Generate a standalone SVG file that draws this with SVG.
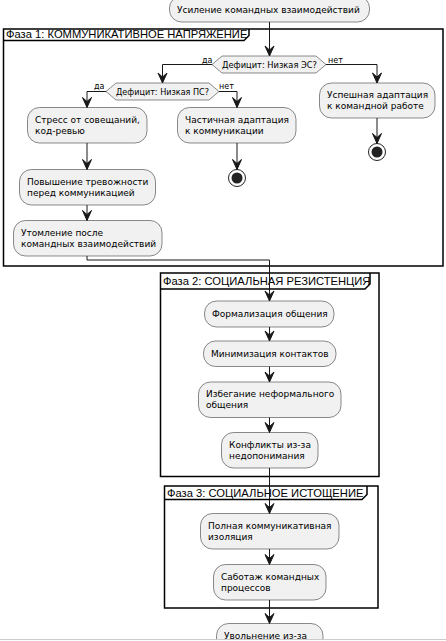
<svg xmlns="http://www.w3.org/2000/svg" width="446" height="641" viewBox="0 0 446 641">
<defs>
<style>
.bg{fill:#ffffff}
.node rect{fill:#F1F1F1;stroke:#181818;stroke-width:0.5}
.node polygon{fill:#F1F1F1;stroke:#181818;stroke-width:0.5}
.t{font-family:"DejaVu Sans",Verdana,sans-serif;font-size:9px;fill:#000000}
.lbl{font-family:"DejaVu Sans",Verdana,sans-serif;font-size:8px;fill:#000000}
.ft{font-family:"Liberation Sans",Arial,sans-serif;font-size:11.2px;fill:#000000}
.frame{fill:none;stroke:#000000;stroke-width:1.5}
.conn path{fill:none;stroke:#181818;stroke-width:1}
.conn polygon{fill:#181818;stroke:#181818;stroke-width:1}
.end .o{fill:none;stroke:#222222;stroke-width:1}
.end .i{fill:#222222;stroke:none}
</style>
</defs>
<rect class="bg" x="0" y="0" width="446" height="641"/>

<g id="frame-phase1">
<rect class="frame" x="3.5" y="29" width="439.5" height="237"/>
<path class="frame" d="M3.5,40.5 H244 L249,35.5 V29"/>
<text class="ft" x="6" y="38">Фаза 1: КОММУНИКАТИВНОЕ НАПРЯЖЕНИЕ</text>
</g>
<g id="frame-phase2">
<rect class="frame" x="160.5" y="273" width="218.5" height="203.5"/>
<path class="frame" d="M160.5,289 H365 L370,284 V273"/>
<text class="ft" x="163" y="285">Фаза 2: СОЦИАЛЬНАЯ РЕЗИСТЕНЦИЯ</text>
</g>
<g id="frame-phase3">
<rect class="frame" x="164.5" y="486" width="213.5" height="122"/>
<path class="frame" d="M164.5,499.5 H362 L367,494.5 V486"/>
<text class="ft" x="167" y="497">Фаза 3: СОЦИАЛЬНОЕ ИСТОЩЕНИЕ</text>
</g>

<g id="n-start" class="node">
<rect x="169.5" y="-4" width="200" height="26" rx="12"/>
<text class="t" x="177" y="13">Усиление командных взаимодействий</text>
</g>
<g id="d-es" class="node">
<polygon points="212,64.5 222,56 316,56 326,64.5 316,73 222,73"/>
<text class="t" x="222" y="68" textLength="95" lengthAdjust="spacingAndGlyphs">Дефицит: Низкая ЭС?</text>
</g>
<g id="d-ps" class="node">
<polygon points="106,91.5 116,83 209,83 219,91.5 209,100 116,100"/>
<text class="t" x="116" y="95" textLength="93" lengthAdjust="spacingAndGlyphs">Дефицит: Низкая ПС?</text>
</g>
<g id="n-success" class="node">
<rect x="319.5" y="83" width="115.5" height="35" rx="12"/>
<text class="t" x="327" y="98">Успешная адаптация</text>
<text class="t" x="327" y="109">к командной работе</text>
</g>
<g id="n-stress" class="node">
<rect x="27.5" y="107.5" width="119.5" height="35.5" rx="12"/>
<text class="t" x="35" y="123">Стресс от совещаний,</text>
<text class="t" x="35" y="134">код-ревью</text>
</g>
<g id="n-partial" class="node">
<rect x="177.5" y="107.5" width="118.5" height="35.5" rx="12"/>
<text class="t" x="185" y="123">Частичная адаптация</text>
<text class="t" x="185" y="134">к коммуникации</text>
</g>
<g id="n-anxiety" class="node">
<rect x="19.5" y="169.5" width="136" height="35.5" rx="12"/>
<text class="t" x="27" y="185">Повышение тревожности</text>
<text class="t" x="27" y="196">перед коммуникацией</text>
</g>
<g id="n-fatigue" class="node">
<rect x="13.5" y="220.5" width="148.5" height="35.5" rx="12"/>
<text class="t" x="21" y="236">Утомление после</text>
<text class="t" x="21" y="247">командных взаимодействий</text>
</g>
<g id="end-partial" class="end">
<circle class="o" cx="237" cy="178" r="8.5"/>
<circle class="i" cx="237" cy="178" r="5.5"/>
</g>
<g id="end-success" class="end">
<circle class="o" cx="377" cy="152" r="8.5"/>
<circle class="i" cx="377" cy="152" r="5.5"/>
</g>

<g id="n-formal" class="node">
<rect x="204.5" y="301" width="129.5" height="26" rx="12"/>
<text class="t" x="212" y="317">Формализация общения</text>
</g>
<g id="n-minimize" class="node">
<rect x="203.5" y="341" width="132.5" height="25.5" rx="12"/>
<text class="t" x="211" y="357">Минимизация контактов</text>
</g>
<g id="n-avoid" class="node">
<rect x="198.5" y="382" width="142.5" height="35.5" rx="12"/>
<text class="t" x="206" y="397">Избегание неформального</text>
<text class="t" x="206" y="408">общения</text>
</g>
<g id="n-conflict" class="node">
<rect x="221.5" y="432.5" width="96.5" height="35.5" rx="12"/>
<text class="t" x="229" y="448">Конфликты из-за</text>
<text class="t" x="229" y="459">недопонимания</text>
</g>

<g id="n-isolation" class="node">
<rect x="200.5" y="513.5" width="138.5" height="35.5" rx="12"/>
<text class="t" x="208" y="529">Полная коммуникативная</text>
<text class="t" x="208" y="540">изоляция</text>
</g>
<g id="n-sabotage" class="node">
<rect x="213.5" y="564.5" width="112.5" height="35.5" rx="12"/>
<text class="t" x="221" y="580">Саботаж командных</text>
<text class="t" x="221" y="591">процессов</text>
</g>
<g id="n-dismissal" class="node">
<rect x="216.5" y="623.5" width="106.5" height="35.5" rx="12"/>
<text class="t" x="224" y="639">Увольнение из-за</text>
</g>

<g id="connectors" class="conn">
<path d="M269.5,22 V56"/><polygon points="265,46 269.5,56 274,46 269.5,50"/>
<path d="M212,64.5 H162.5 V83"/><polygon points="158,73 162.5,83 167,73 162.5,77"/>
<path d="M326,64.5 H377 V83"/><polygon points="372.5,73 377,83 381.5,73 377,77"/>
<path d="M106,91.5 H87 V107.5"/><polygon points="82.5,97.5 87,107.5 91.5,97.5 87,101.5"/>
<path d="M219,91.5 H237 V107.5"/><polygon points="232.5,97.5 237,107.5 241.5,97.5 237,101.5"/>
<path d="M87,143 V169.5"/><polygon points="82.5,159.5 87,169.5 91.5,159.5 87,163.5"/>
<path d="M87,205 V220.5"/><polygon points="82.5,210.5 87,220.5 91.5,210.5 87,214.5"/>
<path d="M237,143 V169.5"/><polygon points="232.5,159.5 237,169.5 241.5,159.5 237,163.5"/>
<path d="M377,118 V143.5"/><polygon points="372.5,133.5 377,143.5 381.5,133.5 377,137.5"/>
<path d="M87,256 V260 H269.5 V301"/><polygon points="265,291 269.5,301 274,291 269.5,295"/>
<path d="M269.5,327 V341"/><polygon points="265,331 269.5,341 274,331 269.5,335"/>
<path d="M269.5,366.5 V382"/><polygon points="265,372 269.5,382 274,372 269.5,376"/>
<path d="M269.5,417.5 V432.5"/><polygon points="265,422.5 269.5,432.5 274,422.5 269.5,426.5"/>
<path d="M269.5,468 V513.5"/><polygon points="265,503.5 269.5,513.5 274,503.5 269.5,507.5"/>
<path d="M269.5,549 V564.5"/><polygon points="265,554.5 269.5,564.5 274,554.5 269.5,558.5"/>
<path d="M269.5,600 V623.5"/><polygon points="265,613.5 269.5,623.5 274,613.5 269.5,617.5"/>
<text class="lbl" x="202" y="62.5">да</text>
<text class="lbl" x="328" y="62.5">нет</text>
<text class="lbl" x="94" y="88.5">да</text>
<text class="lbl" x="219" y="88.5">нет</text>
</g>
<rect x="0" y="639" width="446" height="2" fill="#ffffff"/>
<line x1="0" y1="639.5" x2="446" y2="639.5" stroke="#cccccc" stroke-width="1"/>
</svg>
